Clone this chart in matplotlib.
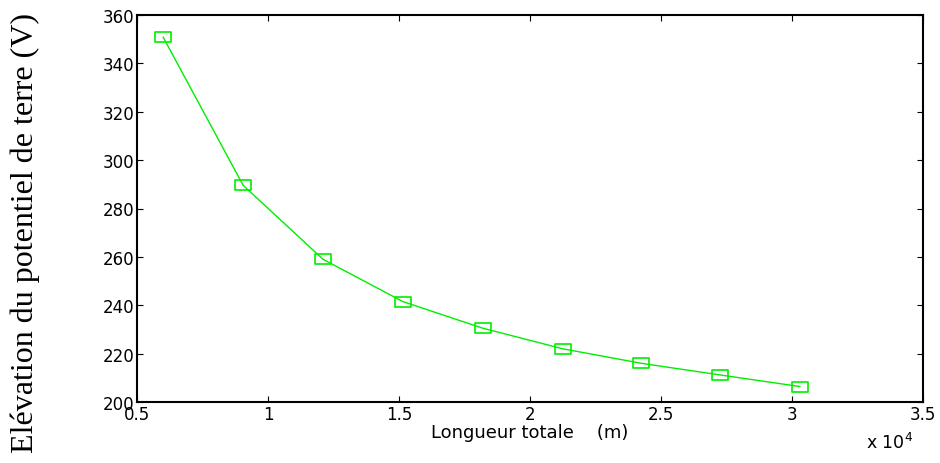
import matplotlib
matplotlib.use('Agg')
import matplotlib.pyplot as plt
from matplotlib.path import Path

# longueur totale (x 10^4 m) et elevation du potentiel (V)
longueur = [0.60, 0.905, 1.21, 1.515, 1.82, 2.125, 2.425, 2.725, 3.03]
potentiel = [350.8, 289.6, 259.0, 241.5, 230.5, 222.0, 216.0, 211.2, 206.4]

xticks = [0.5, 1, 1.5, 2, 2.5, 3, 3.5]
xticklabels = ['0.5', '1', '1.5', '2', '2.5', '3', '3.5']
yticks = [200, 220, 240, 260, 280, 300, 320, 340, 360]

plt.rcParams['font.family'] = 'DejaVu Sans'

# flat rectangle marker (the original looks stretched sideways)
rect = Path([(-1, -0.6), (1, -0.6), (1, 0.6), (-1, 0.6), (-1, -0.6)],
            [Path.MOVETO, Path.LINETO, Path.LINETO, Path.LINETO, Path.CLOSEPOLY])

fig = plt.figure(figsize=(9.4, 4.64), dpi=100)
ax = fig.add_axes([137/940, 1 - 403/464, (923-137)/940, (403-16)/464])

ax.plot(longueur, potentiel, color='#00ee00', lw=1, marker=rect, ms=11,
        mfc='none', mec='#00ee00', mew=1.2)

ax.set_xlim(0.5, 3.5)
ax.set_ylim(200, 360)
ax.set_xticks(xticks)
ax.set_xticklabels(xticklabels)
ax.set_yticks(yticks)
ax.tick_params(direction='in', top=True, right=True, labelsize=12, length=4, pad=2)
for s in ax.spines.values():
    s.set_linewidth(1.5)

ax.set_xlabel('Longueur totale    (m)', fontsize=13, labelpad=0)
fig.text(25/940, 1 - 233/464, 'Elévation du potentiel de terre (V)', family='Liberation Serif',
         fontsize=23, rotation=90, ha='center', va='center')
fig.text(866/940, 1 - 443/464, r'x 10$^4$', fontsize=12.5, va='center')

fig.savefig('out.png', dpi=100)
